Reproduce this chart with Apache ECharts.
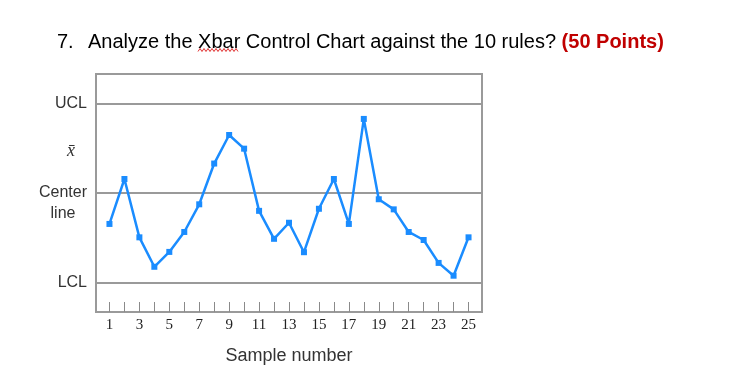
<!DOCTYPE html>
<html>
<head>
<meta charset="utf-8">
<script src="https://cdn.jsdelivr.net/npm/echarts@6/dist/echarts.min.js"></script>
<style>html,body{margin:0;padding:0;background:#fff;}#c{width:738px;height:383px;}</style>
</head>
<body>
<div id="c"></div>
<script>
// Data (y in sigma units relative to the center line)
const samples = [1,2,3,4,5,6,7,8,9,10,11,12,13,14,15,16,17,18,19,20,21,22,23,24,25];
const xbarValues = [-1.04,0.47,-1.49,-2.48,-1.98,-1.31,-0.38,0.99,1.95,1.49,-0.60,-1.54,-1.00,-1.99,-0.53,0.47,-1.04,2.49,-0.21,-0.55,-1.31,-1.58,-2.35,-2.78,-1.49];
const limitValues = [3, 0, -3];           // UCL, center line, LCL
const xTickLabels = [1,3,5,7,9,11,13,15,17,19,21,23,25];
const yLabelValues = [3, 1.4, 0, -3];
const yLabelTexts = ['UCL', 'xbar', 'Center\nline', 'LCL'];

const chart = echarts.init(document.getElementById('c'), null, {renderer: 'canvas'});

// wavy spell-check underline under "Xbar"
const wave = [];
for (let x = 198, i = 0; x <= 238; x += 2, i++) wave.push([x, i % 2 ? 48.5 : 51.5]);

chart.setOption({
  animation: false,
  backgroundColor: '#fff',
  title: {
    text: '{n|7.}{t|Analyze the Xbar Control Chart against the 10 rules? }{r|(50 Points)}',
    left: 57, top: 32, padding: 0,
    textStyle: {
      fontWeight: 'normal',
      rich: {
        n: {fontFamily: 'Liberation Sans, Arial', fontSize: 20, fontWeight: 'normal', color: '#000', width: 31},
        t: {fontFamily: 'Liberation Sans, Arial', fontSize: 20, fontWeight: 'normal', color: '#000'},
        r: {fontFamily: 'Liberation Sans, Arial', fontSize: 20, color: '#c00000', fontWeight: 'bold'}
      }
    }
  },
  graphic: [{
    type: 'polyline', shape: {points: wave},
    style: {stroke: '#e03030', lineWidth: 1, fill: null}, z: 100
  }],
  grid: {left: 96, right: 256, top: 74, bottom: 71, show: true, borderColor: '#9a9a9a', borderWidth: 2},
  xAxis: {
    type: 'value', min: 0.1, max: 25.9,
    name: 'Sample number', nameLocation: 'middle', nameGap: 35,
    nameTextStyle: {fontFamily: 'Liberation Sans, Arial', fontSize: 18, color: '#333'},
    axisLine: {show: true, onZero: false, lineStyle: {color: '#9a9a9a', width: 2}},
    axisTick: {show: true, inside: true, length: 10, customValues: samples, lineStyle: {color: '#8a8a8a', width: 1}},
    axisLabel: {customValues: xTickLabels, margin: 6, fontFamily: 'Liberation Serif, Times New Roman', fontSize: 15, color: '#222'},
    splitLine: {show: false}
  },
  yAxis: {
    type: 'value', min: -4, max: 4,
    axisLine: {show: true, onZero: false, lineStyle: {color: '#9a9a9a', width: 2}},
    axisTick: {show: false},
    splitLine: {show: false},
    axisLabel: {
      customValues: yLabelValues, margin: 9,
      formatter: function (v) {
        const i = yLabelValues.indexOf(v);
        const t = yLabelTexts[i];
        if (t === 'xbar') return '{x|x\u0304}';
        if (t.indexOf('\n') >= 0) { const p = t.split('\n'); return '{e| }\n{c|' + p[0] + '}\n{c|' + p[1] + '}'; }
        return '{s|' + t + '}';
      },
      rich: {
        s: {fontFamily: 'Liberation Sans, Arial', fontSize: 16, color: '#333'},
        x: {fontFamily: 'Liberation Serif, Times New Roman', fontStyle: 'italic', fontSize: 18, color: '#333', padding: [0, 12, 0, 0]},
        e: {fontSize: 10, lineHeight: 20},
        c: {fontFamily: 'Liberation Sans, Arial', fontSize: 16, color: '#333', lineHeight: 21, align: 'center'}
      }
    }
  },
  series: [{
    type: 'line',
    data: samples.map((s, i) => [s, xbarValues[i]]),
    symbol: 'rect', symbolSize: 6, showSymbol: true,
    lineStyle: {color: '#1a8cff', width: 2.5},
    itemStyle: {color: '#1a8cff'},
    z: 5,
    markLine: {
      silent: true, symbol: ['none', 'none'], animation: false,
      label: {show: false},
      lineStyle: {color: '#9a9a9a', type: 'solid', width: 2},
      data: limitValues.map(v => ({yAxis: v}))
    }
  }]
});
</script>
</body>
</html>
